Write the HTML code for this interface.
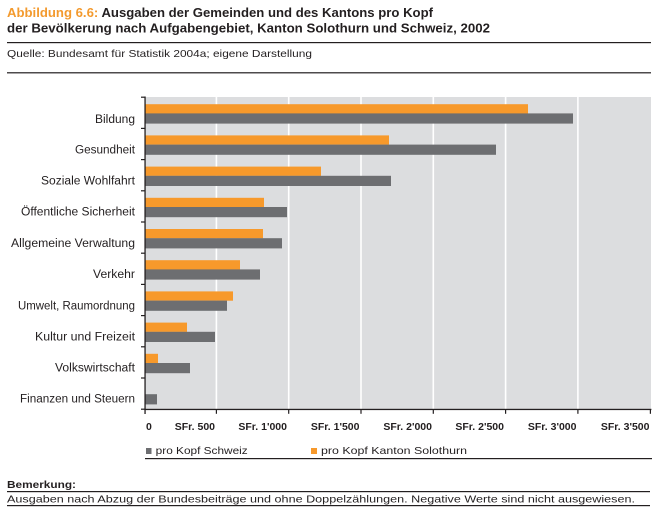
<!DOCTYPE html>
<html>
<head>
<meta charset="utf-8">
<style>
  html,body{margin:0;padding:0;background:#fff;}
  svg{display:block;}
  text{font-family:"Liberation Sans", Arial, sans-serif; fill:#231f20;}
</style>
</head>
<body>
<svg width="665" height="525" viewBox="0 0 665 525" xmlns="http://www.w3.org/2000/svg">
  <rect x="0" y="0" width="665" height="525" fill="#ffffff"/>

  <!-- Title -->
  <text x="7" y="17" font-size="12.5" font-weight="bold" textLength="426" lengthAdjust="spacingAndGlyphs"><tspan fill="#f39a2e">Abbildung 6.6:</tspan> Ausgaben der Gemeinden und des Kantons pro Kopf</text>
  <text x="7" y="32.5" font-size="12.5" font-weight="bold" textLength="483" lengthAdjust="spacingAndGlyphs">der Bevölkerung nach Aufgabengebiet, Kanton Solothurn und Schweiz, 2002</text>
  <rect x="7" y="42" width="644" height="1.2" fill="#231f20"/>
  <text x="7" y="57" font-size="10.5" textLength="305" lengthAdjust="spacingAndGlyphs">Quelle: Bundesamt für Statistik 2004a; eigene Darstellung</text>
  <rect x="7" y="72.2" width="644" height="1.2" fill="#231f20"/>

  <!-- Plot background -->
  <rect x="145" y="97" width="506" height="312.3" fill="#dcdddf"/>
  <!-- gridlines -->
  <g fill="#ffffff">
    <rect x="215.6" y="97" width="1.6" height="312.3"/>
    <rect x="287.9" y="97" width="1.6" height="312.3"/>
    <rect x="360.2" y="97" width="1.6" height="312.3"/>
    <rect x="432.5" y="97" width="1.6" height="312.3"/>
    <rect x="504.8" y="97" width="1.6" height="312.3"/>
    <rect x="577.1" y="97" width="1.6" height="312.3"/>
  </g>

  <!-- Bars: orange (Solothurn) and grey (Schweiz) -->
  <g>
    <!-- Bildung T=97 -->
    <rect x="145" y="104.2" width="383" height="9.3" fill="#f7992b"/>
    <rect x="145" y="113.4" width="428" height="10.2" fill="#6d6e71"/>
    <!-- Gesundheit T=128.2 -->
    <rect x="145" y="135.4" width="244" height="9.3" fill="#f7992b"/>
    <rect x="145" y="144.6" width="351" height="10.2" fill="#6d6e71"/>
    <!-- Soziale Wohlfahrt T=159.4 -->
    <rect x="145" y="166.6" width="176" height="9.3" fill="#f7992b"/>
    <rect x="145" y="175.8" width="246" height="10.2" fill="#6d6e71"/>
    <!-- Öffentliche Sicherheit T=190.6 -->
    <rect x="145" y="197.8" width="119" height="9.3" fill="#f7992b"/>
    <rect x="145" y="207.0" width="142" height="10.2" fill="#6d6e71"/>
    <!-- Allgemeine Verwaltung T=221.8 -->
    <rect x="145" y="229.0" width="118" height="9.3" fill="#f7992b"/>
    <rect x="145" y="238.2" width="137" height="10.2" fill="#6d6e71"/>
    <!-- Verkehr T=253 -->
    <rect x="145" y="260.2" width="95" height="9.3" fill="#f7992b"/>
    <rect x="145" y="269.4" width="115" height="10.2" fill="#6d6e71"/>
    <!-- Umwelt T=284.2 -->
    <rect x="145" y="291.4" width="88" height="9.3" fill="#f7992b"/>
    <rect x="145" y="300.6" width="82" height="10.2" fill="#6d6e71"/>
    <!-- Kultur T=315.4 -->
    <rect x="145" y="322.6" width="42" height="9.3" fill="#f7992b"/>
    <rect x="145" y="331.8" width="70" height="10.2" fill="#6d6e71"/>
    <!-- Volkswirtschaft T=346.6 -->
    <rect x="145" y="353.8" width="13" height="9.3" fill="#f7992b"/>
    <rect x="145" y="363.0" width="45" height="10.2" fill="#6d6e71"/>
    <!-- Finanzen T=377.8 -->
    <rect x="145" y="394.2" width="12" height="10.2" fill="#6d6e71"/>
  </g>

  <!-- Axes -->
  <g fill="#231f20">
    <rect x="144.4" y="96.5" width="1.3" height="317.5"/>
    <rect x="144.4" y="408.8" width="507" height="1.3"/>
    <!-- left ticks -->
    <rect x="141" y="96.6" width="4" height="1.2"/>
    <rect x="141" y="127.8" width="4" height="1.2"/>
    <rect x="141" y="159.0" width="4" height="1.2"/>
    <rect x="141" y="190.2" width="4" height="1.2"/>
    <rect x="141" y="221.4" width="4" height="1.2"/>
    <rect x="141" y="252.6" width="4" height="1.2"/>
    <rect x="141" y="283.8" width="4" height="1.2"/>
    <rect x="141" y="315.0" width="4" height="1.2"/>
    <rect x="141" y="346.2" width="4" height="1.2"/>
    <rect x="141" y="377.4" width="4" height="1.2"/>
    <rect x="141" y="408.6" width="4" height="1.2"/>
    <!-- bottom ticks -->
    <rect x="215.8" y="409" width="1.2" height="4.8"/>
    <rect x="288.1" y="409" width="1.2" height="4.8"/>
    <rect x="360.4" y="409" width="1.2" height="4.8"/>
    <rect x="432.7" y="409" width="1.2" height="4.8"/>
    <rect x="505.0" y="409" width="1.2" height="4.8"/>
    <rect x="577.3" y="409" width="1.2" height="4.8"/>
    <rect x="649.8" y="409" width="1.2" height="4.8"/>
  </g>

  <!-- Category labels -->
  <g font-size="11.5" text-anchor="end">
    <text x="135" y="123" textLength="40" lengthAdjust="spacingAndGlyphs">Bildung</text>
    <text x="135" y="153.5" textLength="60" lengthAdjust="spacingAndGlyphs">Gesundheit</text>
    <text x="135" y="184.5" textLength="94" lengthAdjust="spacingAndGlyphs">Soziale Wohlfahrt</text>
    <text x="135" y="215.5" textLength="114" lengthAdjust="spacingAndGlyphs">Öffentliche Sicherheit</text>
    <text x="135" y="247" textLength="124" lengthAdjust="spacingAndGlyphs">Allgemeine Verwaltung</text>
    <text x="135" y="278" textLength="42" lengthAdjust="spacingAndGlyphs">Verkehr</text>
    <text x="135" y="309.5" textLength="117" lengthAdjust="spacingAndGlyphs">Umwelt, Raumordnung</text>
    <text x="135" y="340.5" textLength="100" lengthAdjust="spacingAndGlyphs">Kultur und Freizeit</text>
    <text x="135" y="371.5" textLength="80" lengthAdjust="spacingAndGlyphs">Volkswirtschaft</text>
    <text x="135" y="402.5" textLength="115" lengthAdjust="spacingAndGlyphs">Finanzen und Steuern</text>
  </g>

  <!-- X tick labels -->
  <g font-size="10.5" font-weight="bold">
    <text x="146" y="430">0</text>
    <text x="215" y="430" text-anchor="end">SFr. 500</text>
    <text x="287" y="430" text-anchor="end">SFr. 1'000</text>
    <text x="359.5" y="430" text-anchor="end">SFr. 1'500</text>
    <text x="432" y="430" text-anchor="end">SFr. 2'000</text>
    <text x="504" y="430" text-anchor="end">SFr. 2'500</text>
    <text x="576.5" y="430" text-anchor="end">SFr. 3'000</text>
    <text x="649.5" y="430" text-anchor="end">SFr. 3'500</text>
  </g>

  <!-- Legend -->
  <rect x="146" y="448" width="5.5" height="6" fill="#6d6e71"/>
  <text x="155.7" y="454" font-size="10.5" textLength="92" lengthAdjust="spacingAndGlyphs">pro Kopf Schweiz</text>
  <rect x="311" y="448" width="6" height="6" fill="#f7992b"/>
  <text x="321" y="454" font-size="10.5" textLength="146" lengthAdjust="spacingAndGlyphs">pro Kopf Kanton Solothurn</text>
  <rect x="145" y="458" width="507" height="1.2" fill="#231f20"/>

  <!-- Bemerkung -->
  <text x="7" y="488" font-size="10.5" font-weight="bold" textLength="69" lengthAdjust="spacingAndGlyphs">Bemerkung:</text>
  <rect x="7" y="491" width="643" height="1.2" fill="#231f20"/>
  <text x="7" y="502.3" font-size="10.5" textLength="628" lengthAdjust="spacingAndGlyphs">Ausgaben nach Abzug der Bundesbeiträge und ohne Doppelzählungen. Negative Werte sind nicht ausgewiesen.</text>
  <rect x="7" y="505" width="643" height="1.2" fill="#231f20"/>
</svg>
</body>
</html>
